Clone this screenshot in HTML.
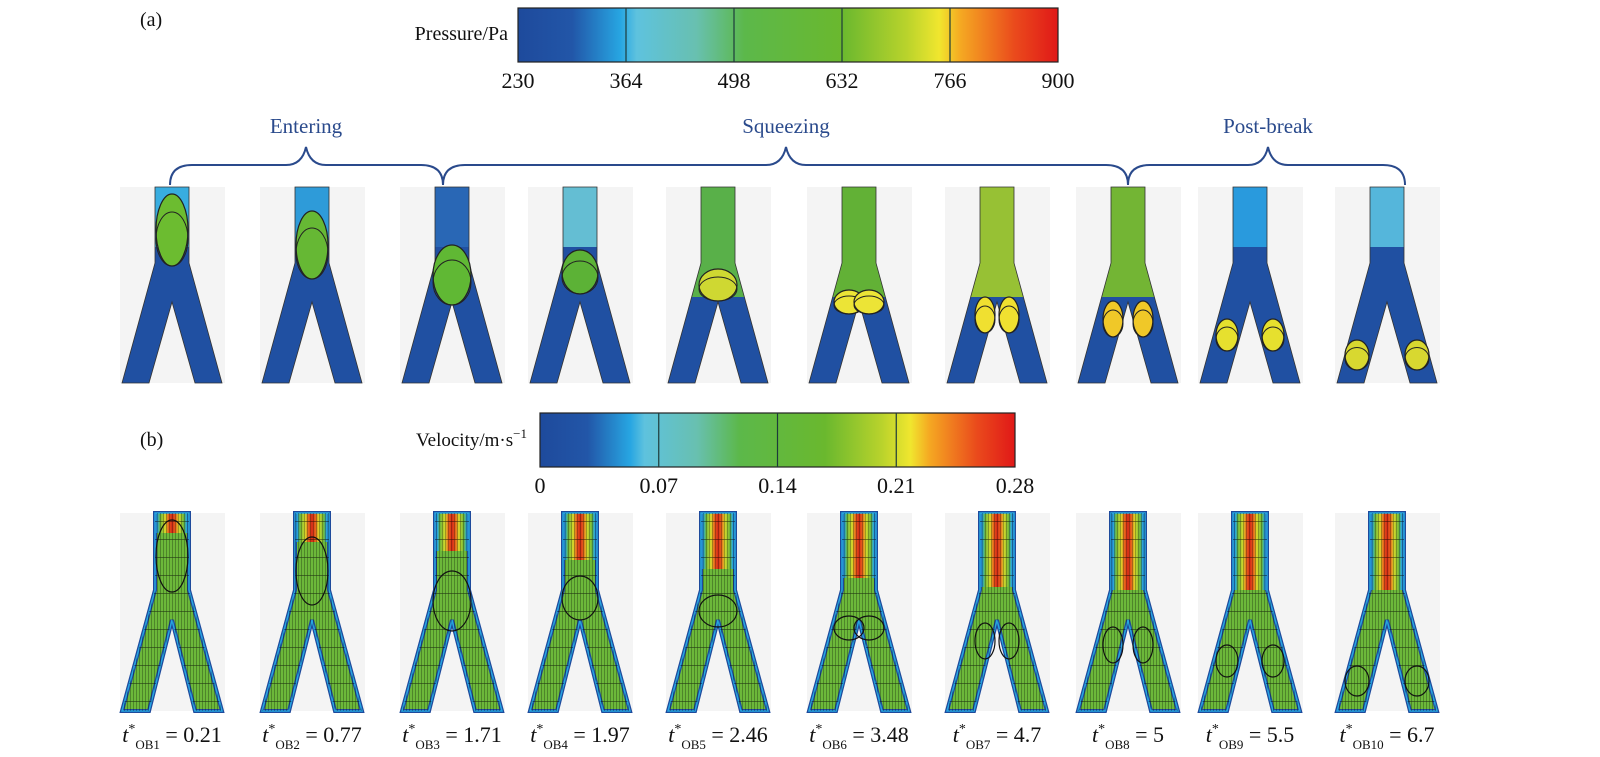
<!DOCTYPE html>
<html><head><meta charset="utf-8"><style>
html,body{margin:0;padding:0;background:#fff;}
svg{display:block;}
text{font-family:"Liberation Serif",serif;fill:#111;}
</style></head><body>
<svg id="fig" width="1600" height="757" viewBox="0 0 1600 757" xmlns="http://www.w3.org/2000/svg">
<defs>
<linearGradient id="pg" x1="0" x2="1" y1="0" y2="0">
<stop offset="0" stop-color="#1e4a9c"/><stop offset="0.1" stop-color="#2256a8"/><stop offset="0.19" stop-color="#27a6e2"/><stop offset="0.22" stop-color="#5ec2de"/><stop offset="0.33" stop-color="#68c0b0"/><stop offset="0.42" stop-color="#5cb84a"/><stop offset="0.6" stop-color="#6ab82e"/><stop offset="0.72" stop-color="#b9d32c"/><stop offset="0.78" stop-color="#f0e62e"/><stop offset="0.82" stop-color="#f5a822"/><stop offset="0.92" stop-color="#ea4a1c"/><stop offset="1" stop-color="#e01818"/>
</linearGradient>
<linearGradient id="stemv" x1="0" x2="1" y1="0" y2="0">
<stop offset="0" stop-color="#1e4a9c"/><stop offset="0.07" stop-color="#27a6e2"/><stop offset="0.15" stop-color="#6cb83a"/><stop offset="0.3" stop-color="#d7d82a"/><stop offset="0.4" stop-color="#e8601c"/><stop offset="0.5" stop-color="#d42a18"/><stop offset="0.6" stop-color="#e8601c"/><stop offset="0.7" stop-color="#d7d82a"/><stop offset="0.85" stop-color="#6cb83a"/><stop offset="0.93" stop-color="#27a6e2"/><stop offset="1" stop-color="#1e4a9c"/>
</linearGradient>
<pattern id="lines" width="3" height="18" patternUnits="userSpaceOnUse">
<rect x="1" y="0" width="0.7" height="18" fill="#000" opacity="0.55"/>
<rect x="0" y="17" width="3" height="1" fill="#000" opacity="0.6"/>
</pattern>
</defs>
<g id="root"></g>
</svg>
<script>
const pTicks=["230","364","498","632","766","900"];
const vTicks=["0","0.07","0.14","0.21","0.28"];
const centers=[172,312,452,580,718,859,997,1128,1250,1387];
const labelIdx=["OB1","OB2","OB3","OB4","OB5","OB6","OB7","OB8","OB9","OB10"];
const times=["0.21","0.77","1.71","1.97","2.46","3.48","4.7","5","5.5","6.7"];
const stemColors=["#3ab2e4","#2f9fdc","#2a68b6","#68c4d6","#5db545","#66b630","#9ec72e","#78ba2e","#2a9ee0","#58bcde"];
// droplet [panel, dx, dy(from top), rx, ry, color]
const drops=[[0,0,43,16,36,"#6cbc30"],[1,0,58,16,34,"#66b834"],[2,0,88,19,30,"#60b834"],[3,0,85,18,22,"#5cb236"],[4,0,98,19,16,"#cfd832"],[5,-10,115,15,12,"#ece436"],[5,10,115,15,12,"#ece436"],[6,-12,128,10,18,"#f0e030"],[6,12,128,10,18,"#f0e030"],[7,-15,132,10,18,"#f0c828"],[7,15,132,10,18,"#f0c828"],[8,-23,148,11,16,"#e6e02e"],[8,23,148,11,16,"#e6e02e"],[9,-30,168,12,15,"#d8d830"],[9,30,168,12,15,"#d8d830"]];
const ns="http://www.w3.org/2000/svg";
const root=document.getElementById('root');
function mk(tag,attrs,parent){const e=document.createElementNS(ns,tag);for(const k in attrs)e.setAttribute(k,attrs[k]);(parent||root).appendChild(e);return e;}
function chanPath(c,T,B,j,a){return `M${c-17},${T} L${c+17},${T} L${c+17},${T+j} L${c+50},${B} L${c+23},${B} L${c},${T+a} L${c-23},${B} L${c-50},${B} L${c-17},${T+j} Z`;}
function colorbar(x0,x1,y0,y1,ticks,name){
  const g=mk('g',{});
  
  
  const r=mk('rect',{x:x0,y:y0,width:x1-x0,height:y1-y0,fill:'url(#pg)',stroke:'#222','stroke-width':1.2},g);
  
  
  const n=ticks.length-1;
  ticks.forEach((t,i)=>{const x=x0+(x1-x0)*i/n;
    if(i>0&&i<n){const l=mk('line',{x1:x,x2:x,y1:y0,y2:y1,stroke:'#1d3a3a','stroke-width':1.2},g);
      
      }
    const tx=mk('text',{x:x,y:y1+26,'text-anchor':'middle','font-size':22},g);tx.textContent=t;
    
    });
  return g;
}
colorbar(518,1058,8,62,pTicks,'pressure-colorbar');
colorbar(540,1015,413,467,vTicks,'velocity-colorbar');
let t=mk('text',{x:508,y:40,'text-anchor':'end','font-size':20});t.textContent='Pressure/Pa';


t=mk('text',{x:527,y:446,'text-anchor':'end','font-size':19});t.innerHTML='Velocity/m·s<tspan dy="-8" font-size="13">−1</tspan>';


t=mk('text',{x:140,y:26,'font-size':20});t.textContent='(a)';


t=mk('text',{x:140,y:446,'font-size':20});t.textContent='(b)';


function brace(x0,x1,xm,label,name){
  const y=165,yt=147,yb=185;
  const d=`M${x0},${yb} Q${x0},${y} ${x0+22},${y} L${xm-20},${y} Q${xm-4},${y} ${xm},${yt} Q${xm+4},${y} ${xm+20},${y} L${x1-22},${y} Q${x1},${y} ${x1},${yb}`;
  const p=mk('path',{d:d,fill:'none',stroke:'#2a4a8c','stroke-width':2});
  
  
  const tx=mk('text',{x:xm,y:133,'text-anchor':'middle','font-size':21});tx.style.fill='#2a4a8c';tx.textContent=label;
  
  
}
brace(170,443,306,'Entering','entering');
brace(443,1128,786,'Squeezing','squeezing');
brace(1128,1405,1268,'Post-break','post-break');
// top row
centers.forEach((c,i)=>{
  const T=187,B=383;
  const bg=mk('rect',{x:c-52,y:T,width:105,height:B-T,fill:'#f4f4f4'});
  
  
  const ch=mk('path',{d:chanPath(c,T,B,76,115),fill:'#2050a2'});
  
  
  const flare=(i>=4&&i<=7);
  const stemH=flare?110:60;
  const hw=17+33*(stemH-76)/120;
  const st=mk('path',{d:flare?`M${c-17},${T} L${c+17},${T} L${c+17},${T+76} L${c+hw},${T+stemH} L${c-hw},${T+stemH} L${c-17},${T+76} Z`:`M${c-17},${T} h34 v${stemH} h-34 Z`,fill:stemColors[i],opacity:0.95});
  
  
  mk('path',{d:chanPath(c,T,B,76,115),fill:'none',stroke:'#333','stroke-width':0.8});
});
drops.forEach(d=>{
  const c=centers[d[0]];
  const e=mk('ellipse',{cx:c+d[1],cy:187+d[2],rx:d[3],ry:d[4],fill:d[5],stroke:'#222','stroke-width':1.2});
  
  
  const e2=mk('ellipse',{cx:c+d[1],cy:187+d[2]+d[4]*0.25,rx:d[3],ry:d[4]*0.75,fill:'none',stroke:'#222','stroke-width':1});
  
  
});
// bottom row
centers.forEach((c,i)=>{
  const T=513,B=711;
  const bg=mk('rect',{x:c-52,y:T,width:105,height:B-T,fill:'#f4f4f4'});
  
  
  const ch=mk('path',{d:chanPath(c,T,B,77,107),fill:'#6cb83a',stroke:'#1e4a9c','stroke-width':4});
  
  
  const redLen=Math.min(77,20+i*9);
  const st=mk('rect',{x:c-17,y:T,width:34,height:redLen,fill:'url(#stemv)'});
  
  
  mk('path',{d:chanPath(c,T,B,77,107),fill:'none',stroke:'#27a6e2','stroke-width':1.5});
  const ov=mk('path',{d:chanPath(c,T,B,77,107),fill:'url(#lines)',opacity:0.7});
  
  
  const lab=mk('text',{x:c,y:742,'text-anchor':'middle','font-size':22});
  lab.innerHTML=`<tspan font-style="italic">t</tspan><tspan dy="-9" font-size="14">*</tspan><tspan dy="16" font-size="13">${labelIdx[i]}</tspan><tspan dy="-7"> = ${times[i]}</tspan>`;
  
  
});
drops.forEach(d=>{
  const c=centers[d[0]];
  const e=mk('ellipse',{cx:c+d[1],cy:513+d[2],rx:d[3],ry:d[4],fill:'none',stroke:'#111','stroke-width':1.2});
  
  
});
</script>
</body></html>
